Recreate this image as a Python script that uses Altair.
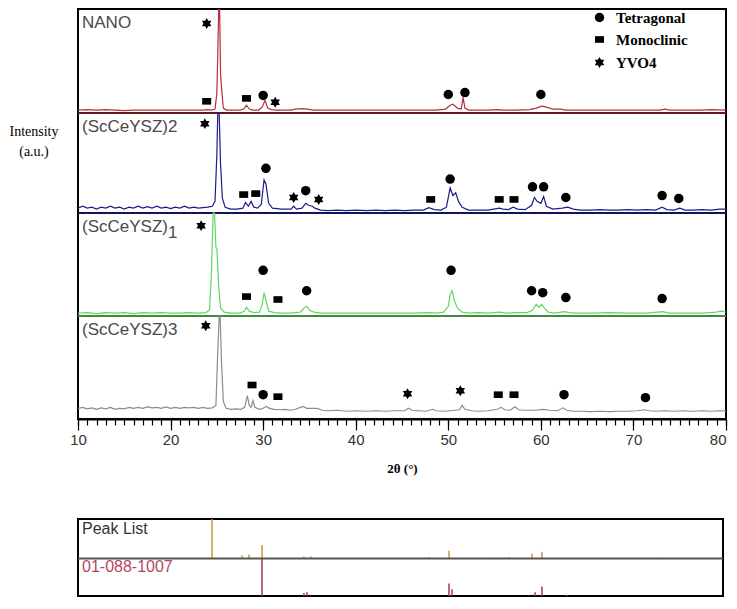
import altair as alt
import pandas as pd

# ---------------- data ----------------
SAMPLES = ["NANO", "(ScCeYSZ)2", "(ScCeYSZ)1", "(ScCeYSZ)3"]
LINE_COLORS = ["#b3303c", "#1d1d8a", "#5fd85f", "#8c8c8c"]
SEP_COLORS = ["#5c1a1e", "#14145a", "#3f8a3f"]

# panel layout (units = reference pixels above x axis)
PANEL_BASE = [315, 212, 106, 0]
PANEL_TOP = [422, 315, 212, 106]

NANO_X = [10, 11, 12, 13, 14, 15, 16, 18, 20, 22, 23.5, 24.0, 24.4, 24.8, 25.0, 25.1, 25.2, 25.3, 25.4, 25.5,
          25.7, 26.0, 27.5, 27.9, 28.2, 28.5, 28.9, 29.5, 29.9, 30.2, 30.5, 30.9, 31.5, 33.0, 33.5, 34.2, 34.8,
          35.4, 37, 40.1, 44.2, 47.3, 48.7, 49.7, 50.2, 50.5, 51.0, 51.4, 51.6, 51.8, 52.2, 54.3, 55.3, 55.9,
          57.3, 58.8, 59.5, 60.1, 60.6, 61.3, 62.1, 62.7, 64.3, 66.4, 68.4, 70.4, 72.9, 73.4, 73.9, 75.4, 77.4,
          78.4, 80]
NANO_Y = [3, 3.5, 3, 3.5, 3, 2.5, 3, 3, 3, 3, 3, 3.5, 3, 4, 20, 60, 107, 107, 40, 26,
          5, 3, 3, 4, 8, 4, 3, 3, 6, 13, 5, 3.5, 3, 3, 4, 4.5, 4,
          3, 3, 3, 3, 3, 3, 4, 8, 9, 5, 4, 16, 5, 3, 3, 3.5, 3,
          3, 3.5, 5, 7, 6, 4, 4, 3, 3, 3, 3, 3, 3, 4, 3, 3, 3,
          3.5, 3]

SC2_X = [10, 10.5, 11, 11.5, 12, 12.5, 13, 13.5, 14, 14.5, 15, 15.5, 16, 16.5, 17, 17.5, 18, 18.5, 19, 19.5,
         20, 20.5, 21, 21.5, 22, 22.5, 23, 23.5, 24, 24.5, 24.8, 25.0, 25.1, 25.25, 25.4, 25.6, 25.9, 26.5,
         27.2, 27.8, 28.1, 28.4, 28.7, 29.0, 29.4, 29.8, 30.1, 30.3, 30.6, 31.0, 32, 33, 33.3, 33.6, 34.2,
         34.6, 34.9, 35.3, 35.6, 36.2, 37, 38, 39, 40.1, 41.2, 42.2, 43.2, 44.2, 45.3, 46.3, 47.3, 47.9, 48.5,
         49.2, 49.8, 50.2, 50.5, 50.8, 51.1, 51.5, 52.2, 53.2, 54.3, 55.5, 55.9, 56.5, 57.0, 57.5, 58.3, 59.0,
         59.3, 59.6, 60.0, 60.3, 60.6, 61.3, 62.3, 62.9, 63.5, 64.3, 65.4, 66.4, 67.4, 68.4, 69.4, 70.4, 71.4,
         72.4, 73.1, 73.6, 74.4, 75.0, 75.6, 76.4, 77.4, 78.4, 79.3, 80]
SC2_Y = [5, 7, 5, 6, 4, 6, 5, 7, 5, 6, 4, 6, 5, 7, 5, 6.5, 5, 7, 5, 6,
         4.5, 6, 5, 7, 5, 6, 5, 5.5, 6, 7, 12, 60, 103, 103, 50, 15, 6, 4,
         4, 5, 11, 7, 12, 6, 5, 9, 34, 30, 10, 5, 4, 4, 7, 4, 5,
         10, 8, 7, 5, 3, 2.5, 3, 2.5, 3, 2.5, 3, 2.5, 3, 2.5, 3, 3, 5.5, 3.5,
         3, 6, 26, 18, 21, 12, 6, 3, 3, 3, 5, 4, 3.5, 6, 4, 3.5, 8,
         16, 12, 10, 17, 7, 4, 5, 6, 4, 3, 3, 3.5, 3, 3, 3.5, 3, 3.5,
         3, 6, 3.5, 3, 5, 3, 3, 3.5, 3, 4, 4]

SC1_X = [10, 11, 12, 13, 14, 15, 16, 17, 18, 19, 20, 21, 22, 23, 23.8, 24.2, 24.4, 24.6, 24.75, 24.9,
         25.0, 25.2, 25.4, 25.8, 26.5, 27.5, 28.0, 28.2, 28.5, 29.0, 29.6, 29.9, 30.1, 30.3, 30.6, 31.2,
         32, 33, 34.0, 34.4, 34.7, 35.0, 35.5, 36.2, 37, 38, 40.1, 42.2, 44.2, 46.3, 47.8, 48.7, 49.5, 50.0,
         50.2, 50.4, 50.7, 51.0, 51.5, 52.2, 53.2, 54.3, 55.5, 56.3, 57.3, 58.5, 59.1, 59.5, 59.8, 60.1, 60.4,
         60.8, 61.5, 62.5, 63.1, 63.8, 65.4, 67.4, 69.4, 71.4, 73.2, 73.8, 75.4, 77.4, 78.9, 79.5, 80]
SC1_Y = [3, 3.5, 2.5, 3.5, 3, 3.5, 2.5, 3.5, 3, 3.5, 3, 3, 3.5, 3, 3.5, 6, 40, 106, 106, 70,
         70, 30, 8, 4, 3, 3, 5, 9, 5, 3.5, 4, 12, 24, 16, 5, 3.5,
         3, 3, 4, 8, 10, 6, 4, 3, 3, 3, 3, 3, 3, 3, 3.5, 3, 4, 10,
         22, 26, 15, 8, 4, 3, 3.5, 3, 4, 3, 3.5, 3.5, 6, 12, 9, 12, 8,
         4, 3, 4.5, 3.5, 3, 3, 3.5, 3, 3, 4.5, 3, 3, 3, 4, 5, 4]

SC3_X = [10, 10.5, 11, 11.5, 12, 12.5, 13, 13.5, 14, 14.5, 15, 15.5, 16, 16.5, 17, 17.5, 18, 18.5, 19, 19.5,
         20, 20.5, 21, 21.5, 22, 22.5, 23, 23.5, 24, 24.5, 24.9, 25.1, 25.25, 25.35, 25.5, 25.7, 26.0, 26.5,
         27, 27.6, 28.0, 28.3, 28.5, 28.7, 28.9, 29.1, 29.6, 30.0, 30.3, 30.7, 31.2, 31.8, 32.4, 33, 33.5,
         34.0, 34.3, 34.7, 35.2, 35.8, 36.4, 37, 38, 39, 40.1, 41.2, 42.2, 43.2, 44.2, 45.3, 45.7, 46.1, 46.8,
         47.6, 48.3, 48.7, 49.7, 50.7, 51.2, 51.5, 51.8, 52.5, 53.2, 54.3, 55.3, 55.7, 56.1, 56.7, 57.2, 57.6,
         58.3, 59.3, 60.3, 60.9, 61.8, 62.4, 62.8, 63.5, 64.3, 65.4, 66.4, 67.4, 68.4, 69.4, 70.4, 71.2, 71.7,
         72.4, 73.4, 74.4, 75.4, 76.4, 77.4, 78.4, 79.4, 80]
SC3_Y = [11, 12, 10.5, 11.5, 10, 11.5, 10.5, 12, 10, 11, 10.5, 12, 11, 12, 11, 12.5, 11.5, 12, 11, 12.5,
         11, 12, 11, 12, 11.5, 12, 11, 12, 11, 11.5, 14, 70, 106, 106, 60, 18, 11, 10,
         10.5, 10, 12, 24, 14, 12, 19, 12, 10, 11, 13, 11, 10, 9.5, 10, 9, 10,
         12, 13, 11, 11, 11, 9, 8.5, 9, 8, 8.5, 8, 8.5, 8, 8.5, 8.5, 11, 9, 8.5,
         8, 10, 8.5, 8, 9, 9.5, 14, 10, 8.5, 8, 8.5, 10, 12, 9.5, 9, 12.5, 9.5,
         9, 9, 10, 9, 8.5, 11.5, 9, 8, 8, 7.5, 8, 7.5, 8, 8, 8.5, 9.5, 8.5,
         8, 8.5, 8, 8.5, 8, 8.5, 8, 8.5, 8]

PHASES = ["Tetragonal", "Monoclinic", "YVO4"]
# markers: (sample, phase, 2theta, height above panel bottom)
MARK_SAMPLE = (["NANO"] * 8 + ["(ScCeYSZ)2"] * 16 + ["(ScCeYSZ)1"] * 10 + ["(ScCeYSZ)3"] * 10)
MARK_PHASE = ["YVO4", "Monoclinic", "Monoclinic", "Tetragonal", "YVO4", "Tetragonal", "Tetragonal", "Tetragonal",
              "YVO4", "Monoclinic", "Monoclinic", "Tetragonal", "YVO4", "Tetragonal", "YVO4", "Monoclinic",
              "Tetragonal", "Monoclinic", "Monoclinic", "Tetragonal", "Tetragonal", "Tetragonal", "Tetragonal",
              "Tetragonal",
              "YVO4", "Monoclinic", "Tetragonal", "Monoclinic", "Tetragonal", "Tetragonal", "Tetragonal",
              "Tetragonal", "Tetragonal", "Tetragonal",
              "YVO4", "Monoclinic", "Tetragonal", "Monoclinic", "YVO4", "YVO4", "Monoclinic", "Monoclinic",
              "Tetragonal", "Tetragonal"]
MARK_2T = [23.9, 23.9, 28.2, 30.0, 31.3, 50.0, 51.8, 60.0,
           23.7, 27.9, 29.2, 30.3, 33.3, 34.6, 36.0, 48.1, 50.2, 55.5, 57.1, 59.1, 60.3, 62.7, 73.1, 74.9,
           23.3, 28.2, 30.0, 31.6, 34.7, 50.3, 59.0, 60.2, 62.7, 73.1,
           23.8, 28.8, 30.0, 31.6, 45.6, 51.3, 55.4, 57.1, 62.5, 71.3]
MARK_H = [92, 12, 15, 18, 11, 19, 21, 19,
          92, 19, 20, 46, 16, 23, 14, 14, 35, 14, 14, 27, 27, 16, 18, 15,
          93, 20, 47, 17, 26, 47, 26, 24, 19, 18,
          96, 35, 25, 23, 26, 29, 25, 25, 25, 22]

LABEL_MAIN = ["NANO", "(ScCeYSZ)2", "(ScCeYSZ)", "(ScCeYSZ)3"]
LABEL_SUB = ["", "", "1", ""]

X_MAJOR = [10, 20, 30, 40, 50, 60, 70, 80]
X_MINOR = list(range(10, 81))

PEAK_TOP_X = [24.48, 27.72, 28.47, 29.88, 34.41, 35.17, 47.92, 50.08, 55.15, 56.56, 59.04, 60.12, 72.76]
PEAK_TOP_H = [41, 3, 4, 14, 2, 2, 1.5, 8, 1, 1.5, 5, 7, 1]
PEAK_BOT_X = [29.88, 34.41, 34.74, 50.08, 50.4, 59.37, 60.12, 62.82]
PEAK_BOT_H = [39, 3, 4, 13, 7, 4, 10, 1]
PEAK_LABELS = ["Peak List", "01-088-1007"]

# ---------------- tables ----------------
spec_x = [NANO_X, SC2_X, SC1_X, SC3_X]
spec_y = [NANO_Y, SC2_Y, SC1_Y, SC3_Y]
rows = []
for i, s in enumerate(SAMPLES):
    for j, (a, b) in enumerate(zip(spec_x[i], spec_y[i])):
        rows.append({"sample": s, "order": j, "tt": a, "y": PANEL_BASE[i] + b})
spec = pd.DataFrame(rows)

base_of = dict(zip(SAMPLES, PANEL_BASE))
marks = pd.DataFrame({"sample": MARK_SAMPLE, "phase": MARK_PHASE, "tt": MARK_2T, "h": MARK_H})
marks["y"] = [base_of[s] + h for s, h in zip(marks["sample"], marks["h"])]

labels = pd.DataFrame({"sample": SAMPLES, "main": LABEL_MAIN, "sub": LABEL_SUB,
                       "y": [t - 14 for t in PANEL_TOP]})
subs = labels[labels["sub"] != ""]

seps = pd.DataFrame({"panel": SAMPLES[:3], "y": PANEL_BASE[:3]})

XS = alt.Scale(domain=[10, 80], nice=False, zero=False)
YS = alt.Scale(domain=[0, 422], nice=False, zero=False)

SQUARE = "M-0.95,-0.7L0.95,-0.7L0.95,0.7L-0.95,0.7Z"
HEXAGRAM = "M0,-1.15L1,0.58L-1,0.58Z M0,1.15L-1,-0.58L1,-0.58Z"

major_axis = alt.Axis(orient="bottom", values=X_MAJOR, tickSize=11, tickColor="#000", tickWidth=1.2,
                      domainColor="#000", domainWidth=2, labelOverlap=False, labelFlush=False,
                      labelAlign={"condition": {"test": "datum.value === 80", "value": "right"},
                                  "value": "center"},
                      labelFont="Liberation Sans", labelFontSize=15, labelColor="#333", labelPadding=2,
                      grid=False, title="2θ (°)", titleFont="Liberation Serif", titleFontSize=13,
                      titleFontWeight="bold", titleColor="#000", titlePadding=15)
minor_axis = alt.Axis(orient="bottom", values=X_MINOR, tickSize=6, tickColor="#000", tickWidth=1.2,
                      domain=False, labels=False, grid=False, title=None)

lines = alt.Chart(spec).mark_line(strokeWidth=1.2, clip=True).encode(
    x=alt.X("tt:Q", scale=XS, axis=major_axis),
    y=alt.Y("y:Q", scale=YS, axis=None),
    color=alt.Color("sample:N", scale=alt.Scale(domain=SAMPLES, range=LINE_COLORS), legend=None),
    detail="sample:N",
    order="order:Q",
)

sep_rules = alt.Chart(seps).mark_rule(strokeWidth=2).encode(
    y=alt.Y("y:Q", scale=YS, axis=None),
    stroke=alt.Stroke("panel:N", scale=alt.Scale(domain=SAMPLES[:3], range=SEP_COLORS), legend=None),
)

points = alt.Chart(marks).mark_point(filled=True, color="black", opacity=1, size=90).encode(
    x=alt.X("tt:Q", scale=XS, axis=minor_axis),
    y=alt.Y("y:Q", scale=YS, axis=None),
    shape=alt.Shape("phase:N", scale=alt.Scale(domain=PHASES, range=["circle", SQUARE, HEXAGRAM]),
                    legend=alt.Legend(title=None, orient="none", legendX=514, legendY=1,
                                      labelFont="Liberation Serif", labelFontSize=15,
                                      labelFontWeight="bold", labelColor="#000", symbolSize=90,
                                      symbolFillColor="#000", symbolStrokeColor="#000",
                                      labelOffset=9, rowPadding=6, padding=0)),
)

name_text = alt.Chart(labels).mark_text(align="left", baseline="middle", font="Liberation Sans",
                                        fontSize=17, color="#4a4a4a").encode(
    x=alt.value(4), y=alt.Y("y:Q", scale=YS, axis=None), text="main:N")

sub_text = alt.Chart(subs).mark_text(align="left", baseline="middle", font="Liberation Sans",
                                     fontSize=17, color="#4a4a4a", dx=86, dy=6).encode(
    x=alt.value(4), y=alt.Y("y:Q", scale=YS, axis=None), text="sub:N")

ylab = alt.Chart(pd.DataFrame({"k": [0]})).mark_text(
    text=["Intensity", "(a.u.)"], lineHeight=20, font="Liberation Serif", fontSize=14,
    align="center", baseline="top", color="#000").encode(x=alt.value(-44), y=alt.value(116))

main = alt.layer(sep_rules, lines, points, name_text, sub_text, ylab).resolve_axis(
    x="independent").properties(width=648, height=410)

# ---------------- peak list ----------------
PXS = alt.Scale(domain=[10, 79.68], nice=False, zero=False)
PYS = alt.Scale(domain=[0, 80], nice=False, zero=False)
ptop = pd.DataFrame({"tt": PEAK_TOP_X, "h": PEAK_TOP_H})
ptop["y0"] = 39
ptop["y1"] = 39 + ptop["h"]
pbot = pd.DataFrame({"tt": PEAK_BOT_X, "h": PEAK_BOT_H})
pbot["y0"] = 0
pbot["y1"] = pbot["h"]

top_rules = alt.Chart(ptop).mark_rule(color="#c8953c", strokeWidth=1.5).encode(
    x=alt.X("tt:Q", scale=PXS, axis=None), y=alt.Y("y0:Q", scale=PYS, axis=None), y2="y1:Q")
bot_rules = alt.Chart(pbot).mark_rule(color="#a03c50", strokeWidth=1.5).encode(
    x=alt.X("tt:Q", scale=PXS, axis=None), y=alt.Y("y0:Q", scale=PYS, axis=None), y2="y1:Q")
divider = alt.Chart(pd.DataFrame({"k": [0]})).mark_rule(color="#555", strokeWidth=2).encode(
    y=alt.value(39.5))
plab1 = alt.Chart(pd.DataFrame({"t": [PEAK_LABELS[0]]})).mark_text(
    align="left", baseline="middle", font="Liberation Sans", fontSize=16, color="#333").encode(
    x=alt.value(4), y=alt.value(10), text="t:N")
plab2 = alt.Chart(pd.DataFrame({"t": [PEAK_LABELS[1]]})).mark_text(
    align="left", baseline="middle", font="Liberation Sans", fontSize=16, color="#b5465c").encode(
    x=alt.value(4), y=alt.value(48), text="t:N")

peak = alt.layer(top_rules, bot_rules, divider, plab1, plab2).properties(width=645, height=77)

chart = alt.vconcat(main, peak, spacing=41).properties(
    padding={"left": 0, "top": 0, "right": 0, "bottom": 0}
).resolve_scale(color="independent").configure_view(stroke="#000", strokeWidth=2)

chart.save("out.html", embed_options={"renderer": "svg", "actions": False})
